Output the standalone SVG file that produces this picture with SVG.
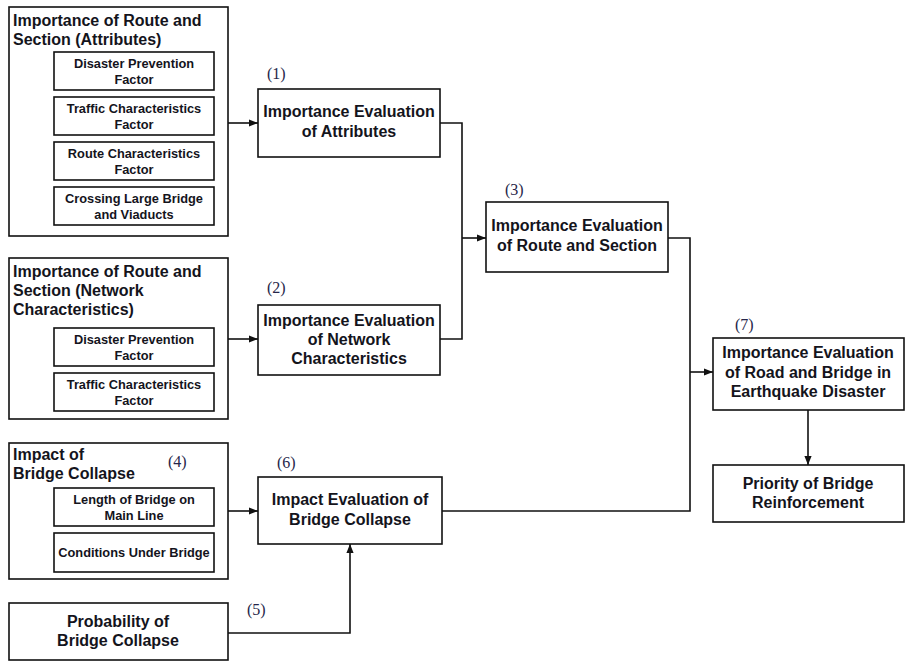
<svg xmlns="http://www.w3.org/2000/svg" width="923" height="662" viewBox="0 0 923 662">
<style>
.box{fill:#fff;stroke:#111;stroke-width:1.6}
.t{font-family:"Liberation Sans",Arial,sans-serif;font-weight:bold;font-size:16px;fill:#14141c}
.s{font-family:"Liberation Sans",Arial,sans-serif;font-weight:bold;font-size:12.8px;fill:#14141c}
.c{text-anchor:middle}
.n{font-family:"Liberation Serif","Times New Roman",serif;font-size:16px;fill:#26264a}
.ln{fill:none;stroke:#111;stroke-width:1.6}
</style>
<defs>
<marker id="ah" viewBox="0 0 10 10" refX="10" refY="5" markerWidth="9" markerHeight="9" markerUnits="userSpaceOnUse" orient="auto">
<path d="M0,1 L10,5 L0,9 Z" fill="#111"/>
</marker>
</defs>
<rect width="923" height="662" fill="#fff"/>

<g id="groupA">
<rect class="box" x="9" y="7" width="219" height="229"/>
<text class="t" x="13" y="26">Importance of Route and</text>
<text class="t" x="13" y="45">Section (Attributes)</text>
</g>
<g id="a1"><rect class="box" x="54" y="52" width="160" height="38"/>
<text class="s c" x="134" y="67.5">Disaster Prevention</text><text class="s c" x="134" y="83.5">Factor</text></g>
<g id="a2"><rect class="box" x="54" y="97" width="160" height="38"/>
<text class="s c" x="134" y="112.5">Traffic Characteristics</text><text class="s c" x="134" y="128.5">Factor</text></g>
<g id="a3"><rect class="box" x="54" y="142" width="160" height="38"/>
<text class="s c" x="134" y="157.5">Route Characteristics</text><text class="s c" x="134" y="173.5">Factor</text></g>
<g id="a4"><rect class="box" x="54" y="187" width="160" height="38"/>
<text class="s c" x="134" y="202.5">Crossing Large Bridge</text><text class="s c" x="134" y="218.5">and Viaducts</text></g>

<g id="groupB">
<rect class="box" x="9" y="258" width="219" height="161"/>
<text class="t" x="13" y="277">Importance of Route and</text>
<text class="t" x="13" y="296">Section (Network</text>
<text class="t" x="13" y="315">Characteristics)</text>
</g>
<g id="b1"><rect class="box" x="54" y="328" width="160" height="38"/>
<text class="s c" x="134" y="343.5">Disaster Prevention</text><text class="s c" x="134" y="359.5">Factor</text></g>
<g id="b2"><rect class="box" x="54" y="373" width="160" height="38"/>
<text class="s c" x="134" y="388.5">Traffic Characteristics</text><text class="s c" x="134" y="404.5">Factor</text></g>

<g id="groupC">
<rect class="box" x="9" y="443" width="219" height="136"/>
<text class="t" x="13" y="460">Impact of</text>
<text class="t" x="13" y="479">Bridge Collapse</text>
<text class="n" x="168" y="467">(4)</text>
</g>
<g id="c1"><rect class="box" x="54" y="488" width="160" height="38"/>
<text class="s c" x="134" y="503.5">Length of Bridge on</text><text class="s c" x="134" y="519.5">Main Line</text></g>
<g id="c2"><rect class="box" x="54" y="533" width="160" height="39"/>
<text class="s c" x="134" y="557">Conditions Under Bridge</text></g>

<g id="n5">
<rect class="box" x="9" y="603" width="219" height="57"/>
<text class="t c" x="118" y="627">Probability of</text>
<text class="t c" x="118" y="646">Bridge Collapse</text>
<text class="n" x="247" y="615">(5)</text>
</g>

<g id="n1">
<rect class="box" x="258" y="89" width="182" height="68"/>
<text class="t c" x="349" y="117">Importance Evaluation</text>
<text class="t c" x="349" y="137">of Attributes</text>
<text class="n" x="267" y="79">(1)</text>
</g>

<g id="n2">
<rect class="box" x="258" y="305" width="182" height="70"/>
<text class="t c" x="349" y="326">Importance Evaluation</text>
<text class="t c" x="349" y="345">of Network</text>
<text class="t c" x="349" y="364">Characteristics</text>
<text class="n" x="267" y="293">(2)</text>
</g>

<g id="n3">
<rect class="box" x="486" y="202" width="182" height="70"/>
<text class="t c" x="577" y="231">Importance Evaluation</text>
<text class="t c" x="577" y="251">of Route and Section</text>
<text class="n" x="505" y="195">(3)</text>
</g>

<g id="n6">
<rect class="box" x="258" y="477" width="184" height="67"/>
<text class="t c" x="350" y="505">Impact Evaluation of</text>
<text class="t c" x="350" y="525">Bridge Collapse</text>
<text class="n" x="277" y="468">(6)</text>
</g>

<g id="n7">
<rect class="box" x="713" y="338" width="191" height="72"/>
<text class="t c" x="808" y="358">Importance Evaluation</text>
<text class="t c" x="808" y="378">of Road and Bridge in</text>
<text class="t c" x="808" y="397">Earthquake Disaster</text>
<text class="n" x="735" y="330">(7)</text>
</g>

<g id="n8">
<rect class="box" x="713" y="465" width="191" height="57"/>
<text class="t c" x="808" y="489">Priority of Bridge</text>
<text class="t c" x="808" y="508">Reinforcement</text>
</g>

<g id="connectors">
<path class="ln" d="M228,123 H258" marker-end="url(#ah)"/>
<path class="ln" d="M228,339 H258" marker-end="url(#ah)"/>
<path class="ln" d="M228,511 H258" marker-end="url(#ah)"/>
<path class="ln" d="M440,123 H462 V339 H440"/>
<path class="ln" d="M462,238 H486" marker-end="url(#ah)"/>
<path class="ln" d="M668,238 H690 V511 H442"/>
<path class="ln" d="M690,372 H713" marker-end="url(#ah)"/>
<path class="ln" d="M808,410 V465" marker-end="url(#ah)"/>
<path class="ln" d="M228,633 H350 V544" marker-end="url(#ah)"/>
</g>
</svg>
